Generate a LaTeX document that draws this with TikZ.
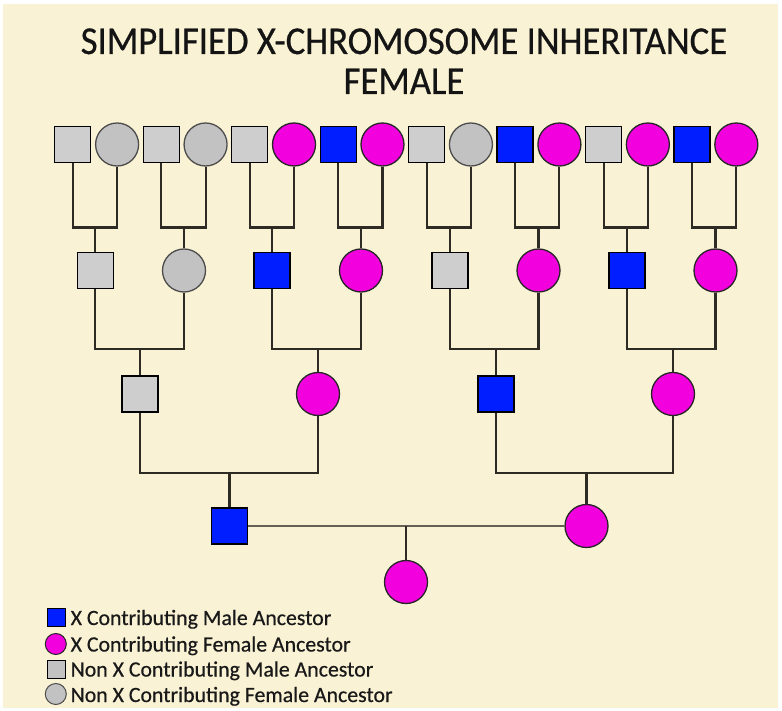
\documentclass[tikz,border=0pt]{standalone}
\usepackage{fontspec}
\setmainfont{Carlito}
\newfontfamily\titlefont[FakeStretch=0.93, FakeBold=0.6]{Carlito}
\newfontfamily\keyfont[FakeBold=0.5]{Carlito}
\definecolor{parch}{RGB}{250,242,212}
\definecolor{xblue}{RGB}{0,30,255}
\definecolor{xmag}{RGB}{242,0,222}
\definecolor{sqgray}{RGB}{206,206,206}
\definecolor{cigray}{RGB}{194,194,194}
\definecolor{wirecol}{RGB}{45,43,36}
\definecolor{wedline}{RGB}{100,96,84}
\tikzset{
  person/.style={draw=black, line width=1.3pt, inner sep=0pt},
  xmale/.style={person, rectangle, minimum size=36pt, fill=xblue},
  nmale/.style={person, rectangle, minimum size=36pt, fill=sqgray},
  xfem/.style={person, circle, minimum size=43pt, fill=xmag, draw=black!85},
  nfem/.style={person, circle, minimum size=43pt, fill=cigray, draw=black!70},
  lxmale/.style={xmale, minimum size=18pt, line width=1pt},
  lnmale/.style={nmale, minimum size=18pt, line width=1pt, fill=cigray},
  lxfem/.style={xfem, minimum size=21pt, line width=1pt},
  lnfem/.style={nfem, minimum size=21pt, line width=1pt},
  wire/.style={draw=wirecol, line width=2.1pt},
  legtext/.style={anchor=base west, inner sep=0pt, text=black!90,
                  font=\keyfont\fontsize{21.8}{24}\selectfont},
  ttl/.style={anchor=base, inner sep=0pt, text=black!92,
              font=\titlefont\fontsize{39.5}{42}\selectfont}
}
% father, mother, junction on the sibship bar, child
\newcommand{\family}[4]{%
  \draw[wire] (#1.south) |- (#3) -| (#2.south);
  \draw[wire] (#3) -- (#4.north);}
\begin{document}
\begin{tikzpicture}[x=1pt,y=-1pt]
\useasboundingbox (0,0) rectangle (782,711);
\fill[white] (0,0) rectangle (782,711);
\fill[parch] (3,4) rectangle (778,708);

% title
\node[ttl] (title1) at (404,54) {SIMPLIFIED X-CHROMOSOME INHERITANCE};
\node[ttl] (title2) at (404,94) {FEMALE};

% great-great-grandparents (top row)
\foreach \i/\m/\f in {1/nmale/nfem, 2/nmale/nfem, 3/nmale/xfem, 4/xmale/xfem,
                      5/nmale/nfem, 6/xmale/xfem, 7/nmale/xfem, 8/xmale/xfem}{
  \pgfmathsetmacro{\sx}{72.8+88.46*(\i-1)}
  \pgfmathsetmacro{\cx}{\sx+44.3}
  \node[\m] (a\i) at (\sx,144.5) {};
  \node[\f] (b\i) at (\cx,144.5) {};
}

% great-grandparents
\node[nmale] (g1) at (95.3,270.5) {};
\node[nfem]  (g2) at (184,270.5) {};
\node[xmale] (g3) at (272,270.5) {};
\node[xfem]  (g4) at (361,270.5) {};
\node[nmale] (g5) at (450,270.5) {};
\node[xfem]  (g6) at (538.5,270.5) {};
\node[xmale] (g7) at (627,270.5) {};
\node[xfem]  (g8) at (715.5,270.5) {};

% grandparents
\node[nmale] (h1) at (140,394) {};
\node[xfem]  (h2) at (318,394) {};
\node[xmale] (h3) at (496,394) {};
\node[xfem]  (h4) at (673,394) {};

% parents
\node[xmale] (pa) at (229.5,526) {};
\node[xfem]  (ma) at (586.5,526) {};

% the female herself
\node[xfem] (self) at (406,582) {};

% junctions on the sibship bars
\foreach \i/\x in {1/95.3, 2/184, 3/272, 4/361, 5/450, 6/538.5, 7/627, 8/715.5}{
  \coordinate (j\i) at (\x,227.5);
}
\coordinate (k1) at (140,349);
\coordinate (k2) at (318,349);
\coordinate (k3) at (496,349);
\coordinate (k4) at (673,349);
\coordinate (l1) at (229.5,472.7);
\coordinate (l2) at (586.5,472.7);
\coordinate (wed) at (406,526);

% connectors
\foreach \i in {1,...,8}{ \family{a\i}{b\i}{j\i}{g\i} }
\family{g1}{g2}{k1}{h1}
\family{g3}{g4}{k2}{h2}
\family{g5}{g6}{k3}{h3}
\family{g7}{g8}{k4}{h4}
\family{h1}{h2}{l1}{pa}
\family{h3}{h4}{l2}{ma}
\draw[draw=wedline, line width=2.6pt] (pa.east) -- (ma.west);
\draw[wire] (wed) -- (self.north);

% legend
\node[lxmale] (k-xm) at (56,617.3) {};
\node[lxfem]  (k-xf) at (55.8,644) {};
\node[lnmale] (k-nm) at (56,669.5) {};
\node[lnfem]  (k-nf) at (55.8,694) {};
\node[legtext] (t-xm) at (70.5,625) {X Contributing Male Ancestor};
\node[legtext] (t-xf) at (70.5,651.5) {X Contributing Female Ancestor};
\node[legtext] (t-nm) at (70.5,676.5) {Non X Contributing Male Ancestor};
\node[legtext] (t-nf) at (70.5,702) {Non X Contributing Female Ancestor};
\end{tikzpicture}
\end{document}
